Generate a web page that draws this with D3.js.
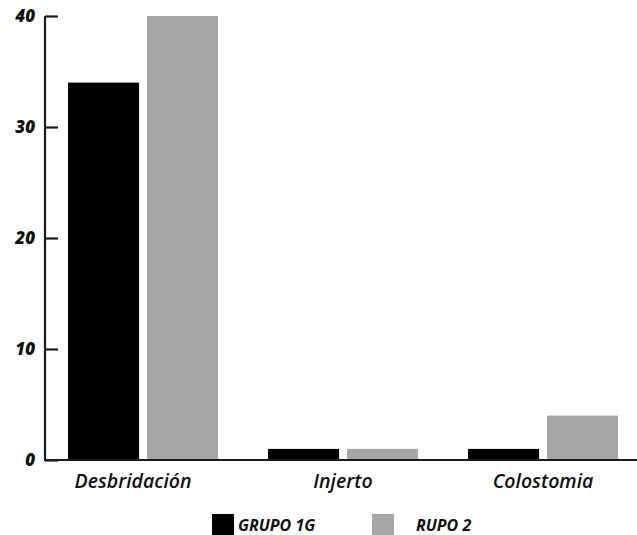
<!DOCTYPE html>
<html>
<head>
<meta charset="utf-8">
<script src="https://cdn.jsdelivr.net/npm/d3@7"></script>
<style>
  body { margin: 0; background: #fff; overflow: hidden; }
  text { font-family: "Open Sans", Lato, sans-serif; font-style: italic; }
</style>
</head>
<body>
<div id="chart"></div>
<script>
// data
var categories = ["Desbridación", "Injerto", "Colostomia"];
var seriesNames = ["GRUPO 1G", "RUPO 2"];
var grupo1 = [34, 1, 1];
var grupo2 = [40, 1, 4];
var yTicks = [0, 10, 20, 30, 40];

var colors = ["#000000", "#a6a6a6"];

var width = 637, height = 535;
var svg = d3.select("#chart").append("svg")
    .attr("width", width)
    .attr("height", height)
    .style("display", "block");

// scales
var x0 = d3.scaleBand()
    .domain(categories)
    .range([43, 643])
    .paddingInner(0.25)
    .paddingOuter(0.125);

var x1 = d3.scaleBand()
    .domain(seriesNames)
    .range([0, x0.bandwidth()])
    .paddingInner(0.1);

var y = d3.scaleLinear()
    .domain([0, 40])
    .range([460, 16]);

var rows = categories.map(function(c, i) {
    return {cat: c, vals: [grupo1[i], grupo2[i]]};
});

// bars
var groups = svg.selectAll("g.grp").data(rows).enter()
    .append("g").attr("class", "grp")
    .attr("transform", function(d) { return "translate(" + x0(d.cat) + ",0)"; });

groups.selectAll("rect").data(function(d) {
        return d.vals.map(function(v, j) { return {name: seriesNames[j], v: v, j: j}; });
    })
    .enter().append("rect")
    .attr("x", function(d) { return x1(d.name); })
    .attr("y", function(d) { return y(d.v); })
    .attr("width", x1.bandwidth())
    .attr("height", function(d) { return y(0) - y(d.v); })
    .attr("fill", function(d) { return colors[d.j]; });

// y axis, ticks point inward
var yAxis = svg.append("g")
    .attr("transform", "translate(45,0)")
    .call(d3.axisRight(y).tickValues(yTicks).tickSize(13).tickFormat(""));
yAxis.select(".domain").attr("stroke", "#1a1a1a").attr("stroke-width", 2.2)
    .attr("d", "M0," + y(40) + "V" + y(0));
yAxis.selectAll(".tick line").attr("stroke", "#1a1a1a").attr("stroke-width", 2.2);

svg.selectAll("text.ylab").data(yTicks).enter()
    .append("text").attr("class", "ylab")
    .attr("x", 35)
    .attr("y", function(d) { return y(d) + 6; })
    .attr("text-anchor", "end")
    .attr("font-size", 17)
    .attr("font-weight", 800)
    .attr("fill", "#111")
    .text(function(d) { return d; });

// x baseline
svg.append("line")
    .attr("x1", 44).attr("x2", 637)
    .attr("y1", y(0)).attr("y2", y(0))
    .attr("stroke", "#1a1a1a").attr("stroke-width", 2.2);

// category labels
svg.selectAll("text.xlab").data(categories).enter()
    .append("text").attr("class", "xlab")
    .attr("x", function(d) { return x0(d) + x0.bandwidth() / 2 - (d === "Desbridación" ? 10 : 0); })
    .attr("y", 488)
    .attr("text-anchor", "middle")
    .attr("font-size", 19.5)
    .attr("font-weight", 600)
    .attr("fill", "#111")
    .text(function(d) { return d; });

// legend
var legendX = [212, 372];
var leg = svg.selectAll("g.leg").data(seriesNames).enter()
    .append("g").attr("class", "leg")
    .attr("transform", function(d, i) { return "translate(" + legendX[i] + ",514)"; });
leg.append("rect")
    .attr("width", 22).attr("height", 21)
    .attr("fill", function(d, i) { return colors[i]; });
leg.append("text")
    .attr("x", function(d, i) { return i === 0 ? 26 : 44; })
    .attr("y", 16.5)
    .attr("font-size", 16)
    .attr("font-weight", "bold")
    .attr("fill", "#111")
    .text(function(d) { return d; });
</script>
</body>
</html>
